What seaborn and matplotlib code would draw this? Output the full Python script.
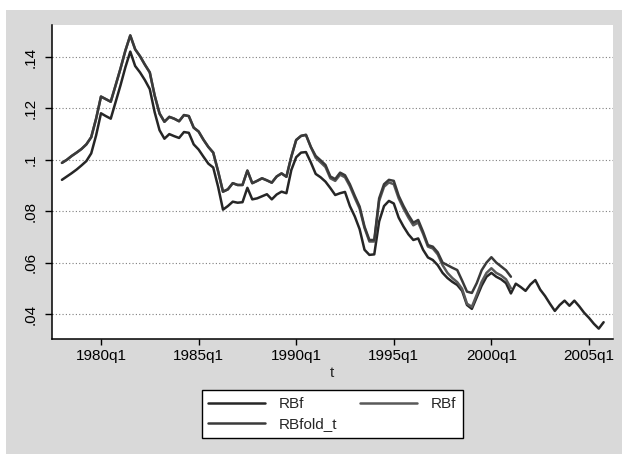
import numpy as np
import pandas as pd
import matplotlib
matplotlib.use("Agg")
import matplotlib.pyplot as plt
import seaborn as sns
from matplotlib.patches import Rectangle

# ---------------- data (quarterly, starting 1978q1) ----------------
start_quarter = "1978Q1"

rbf_1 = [
    0.0922, 0.0935, 0.0948, 0.0962, 0.0978, 0.0995, 0.1025, 0.1095,   # 1978-1979
    0.1181, 0.1170, 0.1160, 0.1225, 0.1290, 0.1360, 0.1421, 0.1365,   # 1980-1981
    0.1340, 0.1310, 0.1275, 0.1185, 0.1115, 0.1082, 0.1100, 0.1092,   # 1982-1983
    0.1085, 0.1108, 0.1105, 0.1060, 0.1040, 0.1012, 0.0985, 0.0970,   # 1984-1985
    0.0895, 0.0806, 0.0820, 0.0837, 0.0833, 0.0835, 0.0891, 0.0846,   # 1986-1987
    0.0850, 0.0858, 0.0866, 0.0846, 0.0865, 0.0876, 0.0870, 0.0960,   # 1988-1989
    0.1010, 0.1028, 0.1030, 0.0990, 0.0945, 0.0932, 0.0915, 0.0890,   # 1990-1991
    0.0863, 0.0870, 0.0875, 0.0820, 0.0780, 0.0730, 0.0650, 0.0630,   # 1992-1993
    0.0632, 0.0760, 0.0820, 0.0840, 0.0830, 0.0775, 0.0740, 0.0710,   # 1994-1995
    0.0688, 0.0694, 0.0650, 0.0620, 0.0610, 0.0590, 0.0560, 0.0540,   # 1996-1997
    0.0525, 0.0513, 0.0490, 0.0435, 0.0420, 0.0465, 0.0510, 0.0545,   # 1998-1999
    0.0560, 0.0545, 0.0535, 0.0520, 0.0480, 0.0518, 0.0505, 0.0490,   # 2000-2001
    0.0515, 0.0532, 0.0495, 0.0470, 0.0440, 0.0412, 0.0435, 0.0452,   # 2002-2003
    0.0432, 0.0452, 0.0430, 0.0405, 0.0385, 0.0362, 0.0343, 0.0368,   # 2004-2005
]

rbf_2 = [
    0.0988, 0.1000, 0.1015, 0.1028, 0.1042, 0.1060, 0.1088, 0.1160,
    0.1246, 0.1236, 0.1226, 0.1290, 0.1355, 0.1425, 0.1484, 0.1430,
    0.1403, 0.1370, 0.1340, 0.1250, 0.1180, 0.1148, 0.1167, 0.1160,
    0.1150, 0.1174, 0.1170, 0.1125, 0.1110, 0.1078, 0.1050, 0.1028,
    0.0955, 0.0876, 0.0885, 0.0909, 0.0902, 0.0902, 0.0958, 0.0909,
    0.0918, 0.0928, 0.0920, 0.0911, 0.0935, 0.0947, 0.0934, 0.1012,
    0.1077, 0.1093, 0.1097, 0.1050, 0.1008, 0.0990, 0.0972, 0.0928,
    0.0918, 0.0942, 0.0932, 0.0897, 0.0852, 0.0810, 0.0735, 0.0682,
    0.0682, 0.0840, 0.0895, 0.0912, 0.0905, 0.0850, 0.0810, 0.0775,
    0.0745, 0.0756, 0.0712, 0.0662, 0.0655, 0.0632, 0.0590, 0.0560,
    0.0540, 0.0524, 0.0498, 0.0440, 0.0428, 0.0475, 0.0525, 0.0560,
    0.0578, 0.0560, 0.0550, 0.0535, 0.0500,
]

rbfold_t = [
    0.0988, 0.1000, 0.1015, 0.1028, 0.1042, 0.1060, 0.1088, 0.1160,
    0.1246, 0.1236, 0.1226, 0.1290, 0.1355, 0.1425, 0.1484, 0.1430,
    0.1403, 0.1370, 0.1340, 0.1250, 0.1180, 0.1148, 0.1167, 0.1160,
    0.1150, 0.1174, 0.1170, 0.1125, 0.1110, 0.1078, 0.1050, 0.1028,
    0.0955, 0.0876, 0.0885, 0.0909, 0.0902, 0.0902, 0.0958, 0.0909,
    0.0918, 0.0928, 0.0920, 0.0911, 0.0935, 0.0947, 0.0934, 0.1012,
    0.1077, 0.1093, 0.1097, 0.1050, 0.1015, 0.0998, 0.0980, 0.0935,
    0.0925, 0.0950, 0.0940, 0.0905, 0.0860, 0.0818, 0.0740, 0.0688,
    0.0688, 0.0850, 0.0905, 0.0922, 0.0918, 0.0860, 0.0820, 0.0785,
    0.0755, 0.0766, 0.0720, 0.0668, 0.0662, 0.0640, 0.0600, 0.0590,
    0.0580, 0.0571, 0.0530, 0.0487, 0.0482, 0.0520, 0.0570, 0.0600,
    0.0621, 0.0600, 0.0585, 0.0570, 0.0545,
]

series_labels = ["RBf", "RBf", "RBfold_t"]
series_colors = ["#262626", "#595959", "#3a3a3a"]

xtick_years = [1980, 1985, 1990, 1995, 2000, 2005]
xtick_labels = ["1980q1", "1985q1", "1990q1", "1995q1", "2000q1", "2005q1"]
ytick_values = [0.04, 0.06, 0.08, 0.10, 0.12, 0.14]
ytick_labels = [".04", ".06", ".08", ".1", ".12", ".14"]
x_title = "t"


def make_frame(values, key):
    per = pd.period_range(start_quarter, periods=len(values), freq="Q")
    t = per.year + (per.quarter - 1) / 4.0
    return pd.DataFrame({"t": np.asarray(t, dtype=float), "value": values, "series": key})


frames = [make_frame(v, i) for i, v in enumerate([rbf_1, rbf_2, rbfold_t])]

# ---------------- figure ----------------
sns.set_style("white")
plt.rcParams["font.family"] = ["Liberation Sans", "DejaVu Sans"]

W, H = 622, 454
fig = plt.figure(figsize=(W / 100, H / 100), dpi=100, facecolor="white")

# gray outer region (Stata graph region)
fig.patches.append(Rectangle((6 / W, 0), 1 - 6 / W, (H - 10) / H,
                             transform=fig.transFigure, facecolor="#d9d9d9",
                             edgecolor="none", zorder=-10))

left_px, right_px, top_px, bottom_px = 51.7, 612.7, 25, 339
ax = fig.add_axes([left_px / W, 1 - bottom_px / H,
                   (right_px - left_px) / W, (bottom_px - top_px) / H])
ax.set_facecolor("white")

handles = []
for df, lab, col in zip(frames, series_labels, series_colors):
    sns.lineplot(data=df, x="t", y="value", ax=ax, color=col, linewidth=1.8,
                 sort=False, estimator=None, label=lab, legend=False)
    handles.append(ax.lines[-1])

ax.set_xlim(1977.475, 2006.215)
ax.set_ylim(0.03027, 0.15245)

ax.set_xticks(xtick_years)
ax.set_xticklabels(xtick_labels)
ax.set_yticks(ytick_values)
ax.set_yticklabels(ytick_labels)

ax.tick_params(axis="x", length=4.5, width=1.0, pad=3, labelsize=11, colors="black",
               direction="out", bottom=True)
ax.tick_params(axis="y", length=5, width=1.0, pad=5, labelsize=11, colors="black",
               direction="out", left=True, labelrotation=90)
for lab in ax.get_yticklabels():
    lab.set_va("center")

ax.yaxis.grid(True, linestyle=(0, (1, 2)), color="#7f7f7f", linewidth=0.8)
ax.xaxis.grid(False)

for side in ["top", "right"]:
    ax.spines[side].set_visible(False)
for side in ["left", "bottom"]:
    ax.spines[side].set_color("black")
    ax.spines[side].set_linewidth(1.1)

ax.set_xlabel(x_title, fontsize=11, labelpad=2)
ax.set_ylabel("")

# legend: row-wise order like Stata (s1, s2 / s3)
order = [0, 2, 1]
leg = ax.legend([handles[i] for i in order], [series_labels[i] for i in order],
                ncol=2, loc="upper center",
                bbox_to_anchor=(332.2 / W, 1 - 390 / H), bbox_transform=fig.transFigure,
                frameon=True, fancybox=False, edgecolor="black", framealpha=1,
                facecolor="white", fontsize=11, handlelength=3.7, handletextpad=0.9,
                columnspacing=1.5, borderpad=0.45, labelspacing=0.4, borderaxespad=0)
leg.get_frame().set_linewidth(1.0)

fig.savefig("out.png", dpi=100, facecolor=fig.get_facecolor())
